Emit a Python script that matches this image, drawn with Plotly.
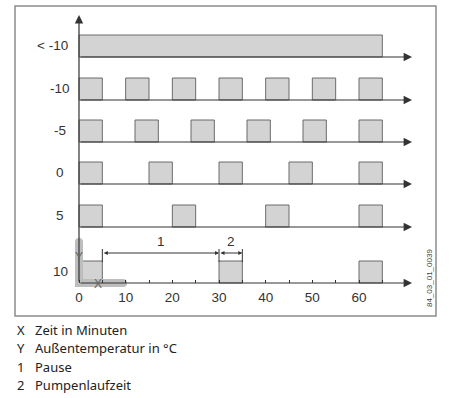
import plotly.graph_objects as go

# ---------------- data ----------------
row_labels = ["< -10", "-10", "-5", "0", "5", "10"]
run_starts = [
    [0],
    [0, 10, 20, 30, 40, 50, 60],
    [0, 12, 24, 36, 48, 60],
    [0, 15, 30, 45, 60],
    [0, 20, 40, 60],
    [0, 30, 60],
]
run_lengths = [
    [65],
    [5, 5, 5, 5, 5, 5, 5],
    [5, 5, 5, 5, 5, 5],
    [5, 5, 5, 5, 5],
    [5, 5, 5, 5],
    [5, 5, 5],
]
tick_vals = [0, 5, 10, 15, 20, 25, 30, 35, 40, 45, 50, 55, 60, 65]
tick_text = ["0", "", "10", "", "20", "", "30", "", "40", "", "50", "", "60", ""]
pause_span = [5, 30]
pump_span = [30, 35]
key_letters = ["X", "Y", "1", "2"]
key_texts = ["Zeit in Minuten", "Außentemperatur in °C", "Pause", "Pumpenlaufzeit"]
drawing_id = "84_03_01_0039"

# ---------------- layout helpers ----------------
W, H = 464, 398
X0_PX = 79.0
PX_PER_MIN = 280.0 / 60.0
def px2min(px):
    return (px - X0_PX) / PX_PER_MIN

baselines = [57, 100, 142, 184, 227, 283]   # pixel rows (y axis in pixels, reversed)
BAR_H = 22
AX_END = px2min(412)
DARK = "#333333"
BAR_FILL = "#d3d3d3"
BAR_LINE = "#6b6b6b"

fig = go.Figure()

for i, lab in enumerate(row_labels):
    fig.add_trace(go.Bar(
        orientation="h",
        base=run_starts[i],
        x=run_lengths[i],
        y=[baselines[i] - BAR_H / 2] * len(run_starts[i]),
        width=BAR_H,
        marker=dict(color=BAR_FILL, line=dict(color=BAR_LINE, width=1)),
        showlegend=False, hoverinfo="skip",
    ))

# gray X/Y marker (L shape)
Lc = "#bdbdbd"
fig.add_trace(go.Scatter(
    x=[0, 0, px2min(123)], y=[242, 283, 283], mode="lines+markers",
    line=dict(color=Lc, width=8), marker=dict(color=Lc, size=8),
    showlegend=False, hoverinfo="skip",
))

annotations = []
# row baselines with arrows
for b in baselines:
    annotations.append(dict(
        x=AX_END, y=b, ax=0, ay=b, xref="x", yref="y", axref="x", ayref="y",
        text="", showarrow=True, arrowhead=2, arrowsize=1.4, arrowwidth=1.2,
        arrowcolor=DARK, standoff=0,
    ))
# vertical axis
annotations.append(dict(
    x=0, y=15, ax=0, ay=283, xref="x", yref="y", axref="x", ayref="y",
    text="", showarrow=True, arrowhead=2, arrowsize=1.4, arrowwidth=1.2,
    arrowcolor=DARK,
))
# row labels
for i, lab in enumerate(row_labels):
    annotations.append(dict(
        x=px2min(70) if i == 0 else px2min(60), y=baselines[i] - BAR_H / 2 - 1,
        xref="x", yref="y", text=lab, showarrow=False,
        xanchor="right" if i == 0 else "center", yanchor="middle",
        font=dict(family="Liberation Sans, Arial", size=13.5, color=DARK),
    ))
# dimension lines
DIM_Y = 253
for span, lab in [(pause_span, "1"), (pump_span, "2")]:
    annotations.append(dict(
        x=span[1], y=DIM_Y, ax=span[0], ay=DIM_Y, xref="x", yref="y",
        axref="x", ayref="y", text="", showarrow=True, arrowhead=2,
        startarrowhead=2, arrowside="end+start", arrowsize=0.8, startarrowsize=0.8,
        arrowwidth=1, arrowcolor=DARK, standoff=0, startstandoff=0,
    ))
    annotations.append(dict(
        x=(span[0] + span[1]) / 2, y=DIM_Y - 2, xref="x", yref="y", text=lab,
        showarrow=False, yanchor="bottom",
        font=dict(family="Liberation Sans, Arial", size=13.5, color=DARK),
    ))
# X / Y letters on gray marker
annotations.append(dict(x=0, y=257, xref="x", yref="y", text="Y", showarrow=False,
                        font=dict(family="Liberation Sans, Arial", size=12, color="#666666")))
annotations.append(dict(x=px2min(98), y=284, xref="x", yref="y", text="X", showarrow=False,
                        font=dict(family="Liberation Sans, Arial", size=12, color="#666666")))
# drawing id
annotations.append(dict(x=px2min(429), y=278, xref="x", yref="y", text=drawing_id,
                        textangle=-90, showarrow=False,
                        font=dict(family="Liberation Sans, Arial", size=8, color="#444444")))
# key below the frame
for i, (k, t) in enumerate(zip(key_letters, key_texts)):
    yy = 330 + i * 18.3
    annotations.append(dict(x=15 / W, y=yy, xref="paper", yref="y", text=k, showarrow=False,
                            xanchor="left", font=dict(family="Noto Sans", size=13, color="#222222")))
    annotations.append(dict(x=33 / W, y=yy, xref="paper", yref="y", text=t, showarrow=False,
                            xanchor="left", font=dict(family="Noto Sans", size=13, color="#222222")))

shapes = [
    dict(type="rect", xref="paper", yref="paper", x0=15 / W, x1=436 / W,
         y0=1 - 316 / H, y1=1 - 6 / H, line=dict(color="#8c8c8c", width=1.5)),
]
# extension lines of dimensions
for xv, ytop in [(pause_span[0], 262), (pause_span[1], 262), (pump_span[1], 262)]:
    shapes.append(dict(type="line", xref="x", yref="y", x0=xv, x1=xv, y0=249, y1=ytop,
                       line=dict(color=DARK, width=1)))

fig.update_layout(
    width=W, height=H, margin=dict(l=0, r=0, t=0, b=0),
    paper_bgcolor="white", plot_bgcolor="white",
    barmode="overlay", showlegend=False,
    xaxis=dict(range=[px2min(0), px2min(W)], domain=[0, 1], anchor="free",
               position=1 - 283 / H, showgrid=False, zeroline=False, showline=False,
               tickvals=tick_vals, ticktext=tick_text, ticks="inside", ticklen=3,
               ticklabelstandoff=4,
               tickcolor=DARK, tickfont=dict(family="Liberation Sans, Arial", size=13.5, color=DARK)),
    yaxis=dict(range=[H, 0], domain=[0, 1], visible=False),
    annotations=annotations, shapes=shapes,
)

fig.write_html("out.html", post_script="document.body.style.margin='0';",
               config={"displayModeBar": False})
